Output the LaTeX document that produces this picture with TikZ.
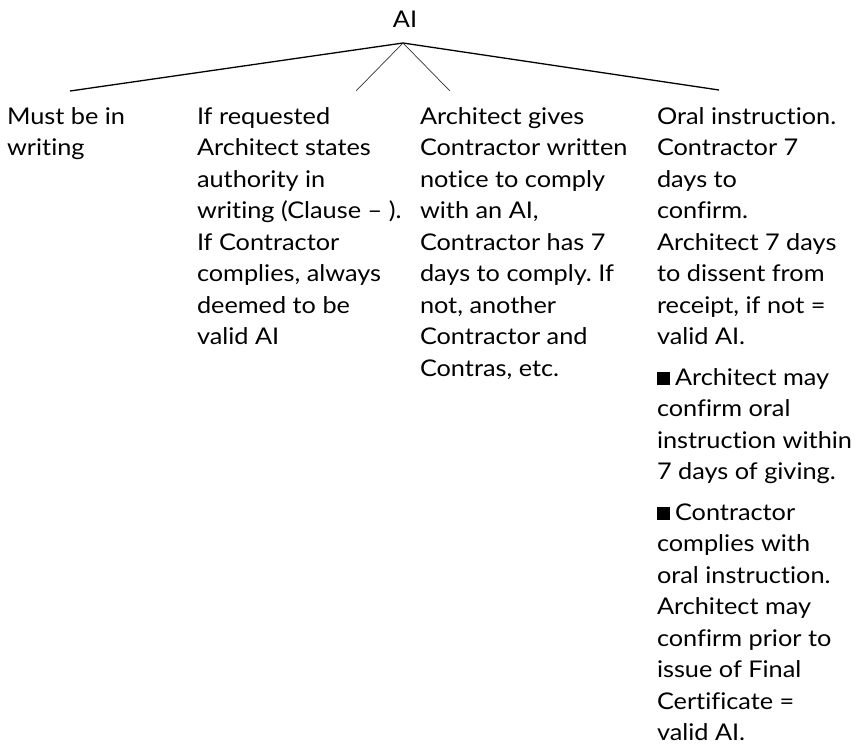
\documentclass[tikz,border=0pt]{standalone}
\usepackage{fontspec}
\setmainfont{Lato}[FakeStretch=1.10,RawFeature=-liga]
\newcommand{\sq}{\rule{13pt}{13pt}\hspace{5pt}}
\frenchspacing
\begin{document}
\begin{tikzpicture}[x=1pt,y=-1pt,
  coltext/.style={anchor=base west, inner sep=0pt, outer sep=0pt},
  mainline/.style={line width=1.3pt, black},
  innerline/.style={line width=0.7pt, black!80}]
\useasboundingbox (0,0) rectangle (860,748);
\fontsize{23pt}{31.5pt}\selectfont
\node[anchor=base, inner sep=0pt] (ai) at (405,27) {AI};
\coordinate (apex) at (403,43);
\coordinate (e1) at (70,91);
\coordinate (e2) at (356,91);
\coordinate (e3) at (450,91);
\coordinate (e4) at (719,90);
\draw[mainline] (apex) -- (e1);
\draw[mainline] (apex) -- (e4);
\draw[innerline] (apex) -- (e2);
\draw[innerline] (apex) -- (e3);
\node[coltext] (c1) at (7,124) {\parbox[t]{180pt}{\raggedright
Must be in\\ writing}};
\node[coltext] (c2) at (197,124) {\parbox[t]{220pt}{\raggedright
If requested\\ Architect states\\ authority in\\ writing (Clause -- ).\\ If Contractor\\ complies, always\\ deemed to be\\ valid AI}};
\node[coltext] (c3) at (420,124) {\parbox[t]{230pt}{\raggedright
Architect gives\\ Contractor written\\ notice to comply\\ with an AI,\\ Contractor has 7\\ days to comply. If\\ not, another\\ Contractor and\\ Contras, etc.}};
\node[coltext] (c4) at (657,124) {\parbox[t]{210pt}{\raggedright
Oral instruction.\\ Contractor 7\\ days to\\ confirm.\\ Architect 7 days\\ to dissent from\\ receipt, if not =\\ valid AI.\\[9pt]
\sq Architect may\\ confirm oral\\ instruction within\\ 7 days of giving.\\[9pt]
\sq Contractor\\ complies with\\ oral instruction.\\ Architect may\\ confirm prior to\\ issue of Final\\ Certificate =\\ valid AI.}};
\end{tikzpicture}
\end{document}
